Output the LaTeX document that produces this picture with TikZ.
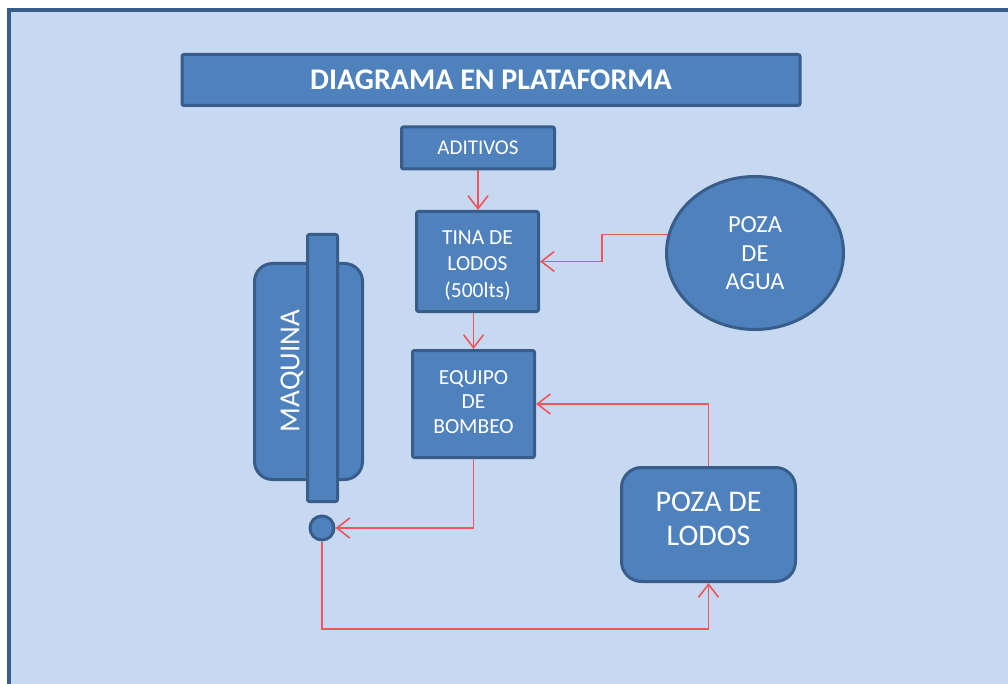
\documentclass[tikz,border=0pt]{standalone}
\usepackage{fontspec}
\setmainfont{Carlito}
\usetikzlibrary{arrows.meta,shapes.geometric}
\definecolor{bgblue}{RGB}{198,217,241}
\definecolor{nodefill}{RGB}{79,129,189}
\definecolor{nodeline}{RGB}{56,93,138}
\definecolor{arrowred}{RGB}{242,84,92}
% #1 extra height (moves text down by half), #2 extra depth (moves text up by half)
\newcommand{\stackedlines}[3]{\raisebox{0pt}[\dimexpr\height+#1\relax][\dimexpr\depth+#2\relax]{\begin{tabular}{@{}c@{}}#3\end{tabular}}}
\tikzset{
  box/.style={draw=nodeline, fill=nodefill, line width=3pt, text=white, align=center, inner sep=0pt},
  flow/.style={draw=arrowred, line width=1.6pt, -{Straight Barb[length=13pt,width=20pt,line width=1.6pt]}},
}
\begin{document}
\begin{tikzpicture}[x=1pt,y=-1pt]
\useasboundingbox (0,0) rectangle (1008,684);
\fill[white] (0,0) rectangle (1008,684);
\draw[draw=nodeline, fill=bgblue, line width=4pt] (9,10) rectangle (1020,700);

\node[box, minimum width=618pt, minimum height=51pt, rounded corners=2pt,
      font=\fontsize{30}{33}\selectfont\bfseries] (title) at (491,80) {DIAGRAMA EN PLATAFORMA};

\node[box, minimum width=153pt, minimum height=42pt, rounded corners=2pt,
      font=\fontsize{21}{24}\selectfont] (aditivos) at (478,148) {ADITIVOS};

\node[box, minimum width=122pt, minimum height=100pt, rounded corners=2pt,
      font=\fontsize{21.5}{26.5}\selectfont] (tina) at (477.5,261.5) {\stackedlines{8pt}{0pt}{TINA DE\\LODOS\\(500lts)}};

\node[box, ellipse, minimum width=177pt, minimum height=153pt,
      font=\fontsize{24.5}{28.5}\selectfont] (agua) at (755,253) {\stackedlines{5pt}{0pt}{POZA\\DE\\AGUA}};

\node[box, minimum width=122pt, minimum height=107pt, rounded corners=2pt,
      font=\fontsize{21.5}{24.5}\selectfont] (equipo) at (473.5,404) {\stackedlines{0pt}{0pt}{EQUIPO\\DE\\BOMBEO}};

\node[box, minimum width=108pt, minimum height=216pt, rounded corners=18pt] (maquina) at (308.5,371.5) {};
\node[box, minimum width=30pt, minimum height=267pt, rounded corners=2pt] (bar) at (322.5,368) {};
\node[text=white, rotate=90, font=\fontsize{29}{32}\selectfont, inner sep=0pt] (maqlabel) at (292,371) {MAQUINA};

\node[box, circle, minimum size=24pt] (dot) at (322,528) {};

\node[box, minimum width=174pt, minimum height=114pt, rounded corners=20pt,
      font=\fontsize{30}{34}\selectfont] (lodos) at (708.5,524.5) {\stackedlines{0pt}{6pt}{POZA DE\\LODOS}};

\coordinate (low) at (500,629);

\draw[flow] (aditivos.south) -- (aditivos.south |- tina.north);
\draw[flow] (agua.168) -| ([xshift=62pt]tina.east) |- (tina.east);
\draw[flow] (tina.south -| equipo.north) -- (equipo.north);
\draw[flow] (equipo.south) |- (dot.east);
\draw[flow] (dot.south) |- (low) -| (lodos.south);
\draw[flow] (lodos.north) |- (equipo.east);
\end{tikzpicture}
\end{document}
